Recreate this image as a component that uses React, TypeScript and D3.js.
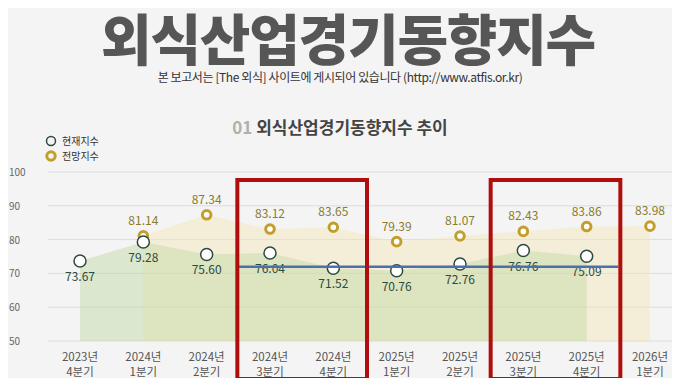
import React, { useEffect, useRef } from 'react';
import * as d3 from 'd3';

const categories = [
  '2023년 4분기',
  '2024년 1분기',
  '2024년 2분기',
  '2024년 3분기',
  '2024년 4분기',
  '2025년 1분기',
  '2025년 2분기',
  '2025년 3분기',
  '2025년 4분기',
  '2026년 1분기',
];
// 현재지수 (no value for 2026년 1분기)
const currentValues = [73.67, 79.28, 75.6, 76.04, 71.52, 70.76, 72.76, 76.76, 75.09, null];
// 전망지수 (no value for 2023년 4분기)
const forecastValues = [null, 81.14, 87.34, 83.12, 83.65, 79.39, 81.07, 82.43, 83.86, 83.98];
const yTicks = [50, 60, 70, 80, 90, 100];
const refLineValue = 72;
const highlightGroups = [
  ['2024년 3분기', '2024년 4분기'],
  ['2025년 3분기', '2025년 4분기'],
];

const W = 680;
const H = 386;
const FONT = "'Noto Sans CJK KR', 'Noto Sans', sans-serif";

function App() {
  const svgRef = useRef(null);

  useEffect(() => {
    const svg = d3.select(svgRef.current);
    svg.selectAll('*').remove();

    const x = d3.scalePoint().domain(categories).range([80, 650]);
    const y = d3.scaleLinear().domain([50, 100]).range([341, 172]);

    svg.append('rect').attr('width', W).attr('height', H).attr('fill', '#f4f4f4');

    // title
    svg
      .append('text')
      .attr('x', 348)
      .attr('y', 60)
      .attr('text-anchor', 'middle')
      .attr('font-family', FONT)
      .attr('font-weight', 900)
      .attr('font-size', 55)
      .attr('letter-spacing', -1.2)
      .attr('fill', '#555655')
      .text('외식산업경기동향지수');

    svg
      .append('text')
      .attr('x', W / 2)
      .attr('y', 82)
      .attr('text-anchor', 'middle')
      .attr('font-family', FONT)
      .attr('font-size', 12)
      .attr('letter-spacing', -0.4)
      .attr('fill', '#333')
      .text('본 보고서는 [The 외식] 사이트에 게시되어 있습니다 (http://www.atfis.or.kr)');

    const sub = svg
      .append('text')
      .attr('x', W / 2)
      .attr('y', 134)
      .attr('text-anchor', 'middle')
      .attr('font-family', FONT)
      .attr('font-weight', 700)
      .attr('font-size', 17);
    sub.append('tspan').attr('fill', '#b0b0b0').text('01 ');
    sub.append('tspan').attr('fill', '#444').text('외식산업경기동향지수 추이');

    // legend
    const lg = svg.append('g').attr('font-family', FONT).attr('font-size', 10).attr('fill', '#333');
    lg.append('circle').attr('cx', 51).attr('cy', 141).attr('r', 4.5).attr('fill', 'none').attr('stroke', '#2d4a3e').attr('stroke-width', 1.5);
    lg.append('text').attr('x', 62).attr('y', 145).text('현재지수');
    lg.append('circle').attr('cx', 51).attr('cy', 156).attr('r', 4.2).attr('fill', 'none').attr('stroke', '#c39e2a').attr('stroke-width', 3);
    lg.append('text').attr('x', 62).attr('y', 160).text('전망지수');

    // grid
    yTicks.forEach((t) => {
      svg
        .append('line')
        .attr('x1', 48)
        .attr('x2', W)
        .attr('y1', y(t))
        .attr('y2', y(t))
        .attr('stroke', '#dcdcdc')
        .attr('stroke-width', 1);
      svg
        .append('text')
        .attr('x', 9)
        .attr('y', y(t) + 4)
        .attr('font-family', FONT)
        .attr('font-size', 10)
        .attr('fill', '#666')
        .text(t);
    });

    // areas
    const curData = categories.map((c, i) => ({ c, v: currentValues[i] })).filter((d) => d.v != null);
    const fcData = categories.map((c, i) => ({ c, v: forecastValues[i] })).filter((d) => d.v != null);
    const area = d3
      .area()
      .x((d) => x(d.c))
      .y0(y(50))
      .y1((d) => y(d.v));
    svg.append('path').datum(fcData).attr('d', area).attr('fill', '#f3e6b8').attr('fill-opacity', 0.45);
    svg.append('path').datum(curData).attr('d', area).attr('fill', '#b9d59a').attr('fill-opacity', 0.4);

    // forecast points
    fcData.forEach((d) => {
      svg
        .append('circle')
        .attr('cx', x(d.c))
        .attr('cy', y(d.v))
        .attr('r', 4.3)
        .attr('fill', '#fff')
        .attr('stroke', '#c39e2a')
        .attr('stroke-width', 3);
      svg
        .append('text')
        .attr('x', x(d.c))
        .attr('y', y(d.v) - 11)
        .attr('text-anchor', 'middle')
        .attr('font-family', FONT)
        .attr('font-size', 12)
        .attr('fill', '#8a7b2e')
        .text(d.v.toFixed(2));
    });

    // current points
    curData.forEach((d) => {
      svg
        .append('circle')
        .attr('cx', x(d.c))
        .attr('cy', y(d.v))
        .attr('r', 6)
        .attr('fill', '#fff')
        .attr('stroke', '#2d4a3e')
        .attr('stroke-width', 1.5);
      svg
        .append('text')
        .attr('x', x(d.c))
        .attr('y', y(d.v) + 20)
        .attr('text-anchor', 'middle')
        .attr('font-family', FONT)
        .attr('font-size', 12)
        .attr('fill', '#2d4a3e')
        .text(d.v.toFixed(2));
    });

    // x labels
    categories.forEach((c) => {
      const [yr, q] = c.split(' ');
      const t = svg
        .append('text')
        .attr('text-anchor', 'middle')
        .attr('font-family', FONT)
        .attr('font-size', 11.5)
        .attr('fill', '#555');
      t.append('tspan').attr('x', x(c)).attr('y', 361).text(yr);
      t.append('tspan').attr('x', x(c)).attr('y', 376).text(q);
    });

    // blue reference line
    const half = x.step() / 2;
    svg
      .append('line')
      .attr('x1', x(highlightGroups[0][0]) - half)
      .attr('x2', x(highlightGroups[1][1]) + half)
      .attr('y1', y(refLineValue))
      .attr('y2', y(refLineValue))
      .attr('stroke', '#4a70ad')
      .attr('stroke-width', 2.5);

    // red highlight boxes
    highlightGroups.forEach(([a, b]) => {
      svg
        .append('rect')
        .attr('x', x(a) - half - 1)
        .attr('y', 180)
        .attr('width', x(b) - x(a) + 2 * half + 3)
        .attr('height', 199)
        .attr('fill', 'none')
        .attr('stroke', '#b00d0d')
        .attr('stroke-width', 4);
    });
  }, []);

  return (
    <div style={{ margin: -8 }}>
      <svg ref={svgRef} width={W} height={H} style={{ display: 'block' }} />
    </div>
  );
}

export default App;
